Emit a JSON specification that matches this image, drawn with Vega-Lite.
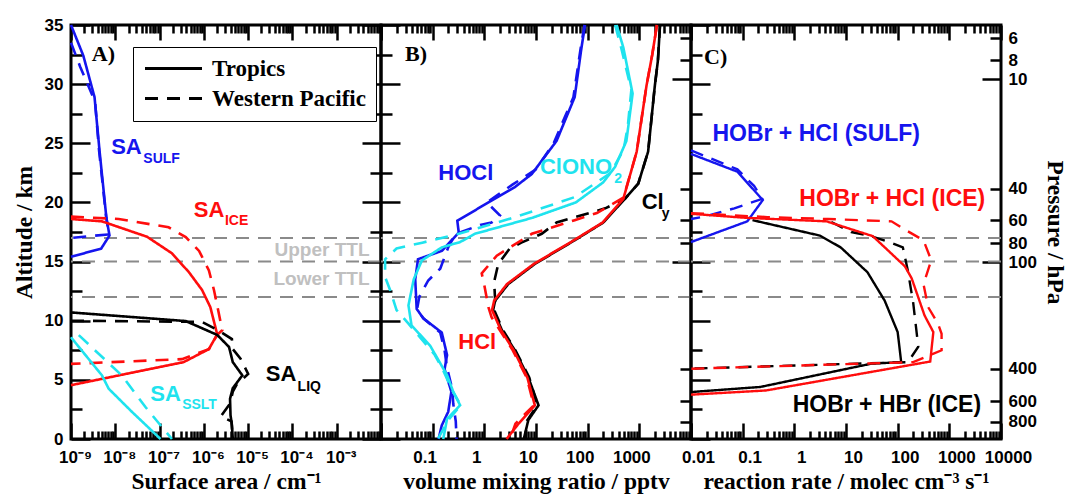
{
"$schema": "https://vega.github.io/schema/vega-lite/v6.json",
"padding": {"left": 10, "top": 14, "right": 0, "bottom": 0},
"datasets": {
"ttl": [{"a": 12}, {"a": 15}, {"a": 17}],
"A": [
{"s":"SULF","r":"Tropics","v":1e-9,"a":35},{"s":"SULF","r":"Tropics","v":1.9e-9,"a":32.4},{"s":"SULF","r":"Tropics","v":3.4e-9,"a":28.9},{"s":"SULF","r":"Tropics","v":4.4e-9,"a":24.4},{"s":"SULF","r":"Tropics","v":6.3e-9,"a":18.7},{"s":"SULF","r":"Tropics","v":7.4e-9,"a":17.2},{"s":"SULF","r":"Tropics","v":4.8e-9,"a":16.1},{"s":"SULF","r":"Tropics","v":1e-9,"a":15.4},
{"s":"SULF","r":"Western Pacific","v":1e-9,"a":33.5},{"s":"SULF","r":"Western Pacific","v":1.6e-9,"a":31.5},{"s":"SULF","r":"Western Pacific","v":3.5e-9,"a":28.5},{"s":"SULF","r":"Western Pacific","v":4.3e-9,"a":24.4},{"s":"SULF","r":"Western Pacific","v":6.2e-9,"a":18.8},{"s":"SULF","r":"Western Pacific","v":7.2e-9,"a":17.3},{"s":"SULF","r":"Western Pacific","v":1e-9,"a":17.0},
{"s":"ICE","r":"Tropics","v":1e-9,"a":18.6},{"s":"ICE","r":"Tropics","v":5e-9,"a":18.4},{"s":"ICE","r":"Tropics","v":5.2e-8,"a":17.1},{"s":"ICE","r":"Tropics","v":1.9e-7,"a":15.7},{"s":"ICE","r":"Tropics","v":4.6e-7,"a":14.1},{"s":"ICE","r":"Tropics","v":9.1e-7,"a":12.6},{"s":"ICE","r":"Tropics","v":1.4e-6,"a":11.15},{"s":"ICE","r":"Tropics","v":2.0e-6,"a":8.85},{"s":"ICE","r":"Tropics","v":1.3e-6,"a":7.6},{"s":"ICE","r":"Tropics","v":3.5e-7,"a":6.5},{"s":"ICE","r":"Tropics","v":1e-9,"a":4.55},
{"s":"ICE","r":"Western Pacific","v":1e-9,"a":18.8},{"s":"ICE","r":"Western Pacific","v":1.2e-8,"a":18.6},{"s":"ICE","r":"Western Pacific","v":1.6e-7,"a":17.9},{"s":"ICE","r":"Western Pacific","v":3.9e-7,"a":17.07},{"s":"ICE","r":"Western Pacific","v":7.8e-7,"a":15.9},{"s":"ICE","r":"Western Pacific","v":1.3e-6,"a":14.25},{"s":"ICE","r":"Western Pacific","v":1.7e-6,"a":12.56},{"s":"ICE","r":"Western Pacific","v":2.1e-6,"a":10.9},{"s":"ICE","r":"Western Pacific","v":2.6e-6,"a":9.2},{"s":"ICE","r":"Western Pacific","v":2.0e-6,"a":8.8},{"s":"ICE","r":"Western Pacific","v":1.3e-6,"a":7.6},{"s":"ICE","r":"Western Pacific","v":3.2e-7,"a":6.75},{"s":"ICE","r":"Western Pacific","v":1e-9,"a":6.35},
{"s":"LIQ","r":"Tropics","v":1e-9,"a":10.7},{"s":"LIQ","r":"Tropics","v":3.9e-7,"a":9.97},{"s":"LIQ","r":"Tropics","v":2.0e-6,"a":8.8},{"s":"LIQ","r":"Tropics","v":3.7e-6,"a":7.78},{"s":"LIQ","r":"Tropics","v":4.5e-6,"a":6.5},{"s":"LIQ","r":"Tropics","v":7.4e-6,"a":5.38},{"s":"LIQ","r":"Tropics","v":4.5e-6,"a":4.3},{"s":"LIQ","r":"Tropics","v":3.9e-6,"a":3.4},{"s":"LIQ","r":"Tropics","v":4.0e-6,"a":2.0},{"s":"LIQ","r":"Tropics","v":4.3e-6,"a":1.2},{"s":"LIQ","r":"Tropics","v":4.5e-6,"a":0},
{"s":"LIQ","r":"Western Pacific","v":1e-9,"a":10.0},{"s":"LIQ","r":"Western Pacific","v":9.1e-7,"a":9.9},{"s":"LIQ","r":"Western Pacific","v":2.1e-6,"a":9.2},{"s":"LIQ","r":"Western Pacific","v":4.3e-6,"a":8.45},{"s":"LIQ","r":"Western Pacific","v":4.5e-6,"a":7.6},{"s":"LIQ","r":"Western Pacific","v":6.8e-6,"a":6.76},{"s":"LIQ","r":"Western Pacific","v":1.0e-5,"a":5.5},{"s":"LIQ","r":"Western Pacific","v":5.5e-6,"a":4.6},{"s":"LIQ","r":"Western Pacific","v":4.5e-6,"a":4.0},{"s":"LIQ","r":"Western Pacific","v":3.9e-6,"a":3.0},{"s":"LIQ","r":"Western Pacific","v":2.4e-6,"a":1.9},{"s":"LIQ","r":"Western Pacific","v":4.2e-6,"a":1.5},{"s":"LIQ","r":"Western Pacific","v":4.5e-6,"a":0},
{"s":"SSLT","r":"Tropics","v":1e-9,"a":8.6},{"s":"SSLT","r":"Tropics","v":5.0e-9,"a":5.38},{"s":"SSLT","r":"Tropics","v":7.1e-9,"a":4.25},{"s":"SSLT","r":"Tropics","v":2.4e-8,"a":2.28},{"s":"SSLT","r":"Tropics","v":1.05e-7,"a":0},
{"s":"SSLT","r":"Western Pacific","v":1.5e-9,"a":8.78},{"s":"SSLT","r":"Western Pacific","v":1.4e-8,"a":5.38},{"s":"SSLT","r":"Western Pacific","v":4.8e-8,"a":2.7},{"s":"SSLT","r":"Western Pacific","v":1.9e-7,"a":0}
],
"B": [
{"s":"HOCl","r":"Tropics","v":89,"a":35},{"s":"HOCl","r":"Tropics","v":76,"a":33.1},{"s":"HOCl","r":"Tropics","v":56,"a":28.9},{"s":"HOCl","r":"Tropics","v":25,"a":25.2},{"s":"HOCl","r":"Tropics","v":8.3,"a":22.4},{"s":"HOCl","r":"Tropics","v":3.9,"a":21.3},{"s":"HOCl","r":"Tropics","v":1.2,"a":20.0},{"s":"HOCl","r":"Tropics","v":0.30,"a":18.45},{"s":"HOCl","r":"Tropics","v":0.32,"a":17.45},{"s":"HOCl","r":"Tropics","v":0.15,"a":15.9},{"s":"HOCl","r":"Tropics","v":0.052,"a":15.2},{"s":"HOCl","r":"Tropics","v":0.046,"a":13.5},{"s":"HOCl","r":"Tropics","v":0.049,"a":11.0},{"s":"HOCl","r":"Tropics","v":0.066,"a":10.2},{"s":"HOCl","r":"Tropics","v":0.15,"a":9.0},{"s":"HOCl","r":"Tropics","v":0.19,"a":7.1},{"s":"HOCl","r":"Tropics","v":0.17,"a":5.9},{"s":"HOCl","r":"Tropics","v":0.23,"a":4.0},{"s":"HOCl","r":"Tropics","v":0.20,"a":2.3},{"s":"HOCl","r":"Tropics","v":0.15,"a":1.15},{"s":"HOCl","r":"Tropics","v":0.13,"a":0},
{"s":"HOCl","r":"Western Pacific","v":87,"a":35},{"s":"HOCl","r":"Western Pacific","v":73,"a":33},{"s":"HOCl","r":"Western Pacific","v":53,"a":28.9},{"s":"HOCl","r":"Western Pacific","v":36,"a":27.2},{"s":"HOCl","r":"Western Pacific","v":22,"a":25.0},{"s":"HOCl","r":"Western Pacific","v":10,"a":22.8},{"s":"HOCl","r":"Western Pacific","v":3.5,"a":21.5},{"s":"HOCl","r":"Western Pacific","v":1.12,"a":20.0},{"s":"HOCl","r":"Western Pacific","v":2.0,"a":18.9},{"s":"HOCl","r":"Western Pacific","v":1.38,"a":18.3},{"s":"HOCl","r":"Western Pacific","v":0.83,"a":18.1},{"s":"HOCl","r":"Western Pacific","v":0.36,"a":17.5},{"s":"HOCl","r":"Western Pacific","v":0.25,"a":17.0},{"s":"HOCl","r":"Western Pacific","v":0.2,"a":16.2},{"s":"HOCl","r":"Western Pacific","v":0.14,"a":14.4},{"s":"HOCl","r":"Western Pacific","v":0.082,"a":13.4},{"s":"HOCl","r":"Western Pacific","v":0.055,"a":12.0},{"s":"HOCl","r":"Western Pacific","v":0.05,"a":11.0},{"s":"HOCl","r":"Western Pacific","v":0.066,"a":10.2},{"s":"HOCl","r":"Western Pacific","v":0.14,"a":9.0},{"s":"HOCl","r":"Western Pacific","v":0.17,"a":7.5},{"s":"HOCl","r":"Western Pacific","v":0.19,"a":6.0},{"s":"HOCl","r":"Western Pacific","v":0.24,"a":4.2},{"s":"HOCl","r":"Western Pacific","v":0.25,"a":3.0},{"s":"HOCl","r":"Western Pacific","v":0.28,"a":1.5},{"s":"HOCl","r":"Western Pacific","v":0.29,"a":0},
{"s":"ClONO2","r":"Tropics","v":363,"a":35},{"s":"ClONO2","r":"Tropics","v":490,"a":33.1},{"s":"ClONO2","r":"Tropics","v":741,"a":29.2},{"s":"ClONO2","r":"Tropics","v":562,"a":25.2},{"s":"ClONO2","r":"Tropics","v":339,"a":23.0},{"s":"ClONO2","r":"Tropics","v":200,"a":21.7},{"s":"ClONO2","r":"Tropics","v":59,"a":20.0},{"s":"ClONO2","r":"Tropics","v":8.5,"a":18.7},{"s":"ClONO2","r":"Tropics","v":0.66,"a":17.35},{"s":"ClONO2","r":"Tropics","v":0.34,"a":16.65},{"s":"ClONO2","r":"Tropics","v":0.15,"a":16.2},{"s":"ClONO2","r":"Tropics","v":0.062,"a":15.1},{"s":"ClONO2","r":"Tropics","v":0.043,"a":13.5},{"s":"ClONO2","r":"Tropics","v":0.034,"a":11.3},{"s":"ClONO2","r":"Tropics","v":0.039,"a":9.6},{"s":"ClONO2","r":"Tropics","v":0.089,"a":7.9},{"s":"ClONO2","r":"Tropics","v":0.19,"a":5.4},{"s":"ClONO2","r":"Tropics","v":0.25,"a":4.0},{"s":"ClONO2","r":"Tropics","v":0.34,"a":2.85},{"s":"ClONO2","r":"Tropics","v":0.19,"a":1.7},{"s":"ClONO2","r":"Tropics","v":0.16,"a":0},
{"s":"ClONO2","r":"Western Pacific","v":340,"a":35},{"s":"ClONO2","r":"Western Pacific","v":450,"a":33},{"s":"ClONO2","r":"Western Pacific","v":700,"a":29.5},{"s":"ClONO2","r":"Western Pacific","v":600,"a":26.5},{"s":"ClONO2","r":"Western Pacific","v":500,"a":24.5},{"s":"ClONO2","r":"Western Pacific","v":280,"a":22.5},{"s":"ClONO2","r":"Western Pacific","v":56,"a":20.45},{"s":"ClONO2","r":"Western Pacific","v":4.0,"a":18.76},{"s":"ClONO2","r":"Western Pacific","v":0.32,"a":17.35},{"s":"ClONO2","r":"Western Pacific","v":0.063,"a":16.6},{"s":"ClONO2","r":"Western Pacific","v":0.02,"a":16.1},{"s":"ClONO2","r":"Western Pacific","v":0.012,"a":15.2},{"s":"ClONO2","r":"Western Pacific","v":0.012,"a":13.7},{"s":"ClONO2","r":"Western Pacific","v":0.015,"a":12.6},{"s":"ClONO2","r":"Western Pacific","v":0.02,"a":10.9},{"s":"ClONO2","r":"Western Pacific","v":0.034,"a":9.75},{"s":"ClONO2","r":"Western Pacific","v":0.071,"a":8.1},{"s":"ClONO2","r":"Western Pacific","v":0.11,"a":7.1},{"s":"ClONO2","r":"Western Pacific","v":0.16,"a":5.8},{"s":"ClONO2","r":"Western Pacific","v":0.24,"a":4.1},{"s":"ClONO2","r":"Western Pacific","v":0.35,"a":2.85},{"s":"ClONO2","r":"Western Pacific","v":0.2,"a":1.6},{"s":"ClONO2","r":"Western Pacific","v":0.126,"a":0},
{"s":"Cly","r":"Tropics","v":2512,"a":35},{"s":"Cly","r":"Tropics","v":2290,"a":32},{"s":"Cly","r":"Tropics","v":2000,"a":29.9},{"s":"Cly","r":"Tropics","v":1480,"a":24.3},{"s":"Cly","r":"Tropics","v":955,"a":21.6},{"s":"Cly","r":"Tropics","v":525,"a":20.3},{"s":"Cly","r":"Tropics","v":200,"a":18.3},{"s":"Cly","r":"Tropics","v":56,"a":16.8},{"s":"Cly","r":"Tropics","v":9.5,"a":14.8},{"s":"Cly","r":"Tropics","v":2.9,"a":13.1},{"s":"Cly","r":"Tropics","v":1.62,"a":11.7},{"s":"Cly","r":"Tropics","v":1.48,"a":10.9},{"s":"Cly","r":"Tropics","v":2.19,"a":9.2},{"s":"Cly","r":"Tropics","v":3.9,"a":7.5},{"s":"Cly","r":"Tropics","v":7.1,"a":5.2},{"s":"Cly","r":"Tropics","v":11.2,"a":2.85},{"s":"Cly","r":"Tropics","v":7.1,"a":1.6},{"s":"Cly","r":"Tropics","v":5.8,"a":0},
{"s":"Cly","r":"Western Pacific","v":2512,"a":35},{"s":"Cly","r":"Western Pacific","v":2290,"a":32},{"s":"Cly","r":"Western Pacific","v":2000,"a":29.9},{"s":"Cly","r":"Western Pacific","v":1480,"a":24.3},{"s":"Cly","r":"Western Pacific","v":955,"a":21.6},{"s":"Cly","r":"Western Pacific","v":525,"a":20.3},{"s":"Cly","r":"Western Pacific","v":219,"a":19.5},{"s":"Cly","r":"Western Pacific","v":25,"a":18.3},{"s":"Cly","r":"Western Pacific","v":12.9,"a":17.35},{"s":"Cly","r":"Western Pacific","v":5.2,"a":16.6},{"s":"Cly","r":"Western Pacific","v":3.1,"a":16.1},{"s":"Cly","r":"Western Pacific","v":1.86,"a":14.8},{"s":"Cly","r":"Western Pacific","v":1.55,"a":13.3},{"s":"Cly","r":"Western Pacific","v":1.62,"a":11.7},{"s":"Cly","r":"Western Pacific","v":1.55,"a":10.9},{"s":"Cly","r":"Western Pacific","v":2.3,"a":9.2},{"s":"Cly","r":"Western Pacific","v":4.0,"a":7.5},{"s":"Cly","r":"Western Pacific","v":7.4,"a":5.2},{"s":"Cly","r":"Western Pacific","v":10.5,"a":2.85},{"s":"Cly","r":"Western Pacific","v":6.6,"a":1.5},{"s":"Cly","r":"Western Pacific","v":6.3,"a":0},
{"s":"HCl","r":"Tropics","v":2190,"a":35},{"s":"HCl","r":"Tropics","v":1780,"a":32.5},{"s":"HCl","r":"Tropics","v":1380,"a":29.9},{"s":"HCl","r":"Tropics","v":890,"a":24.3},{"s":"HCl","r":"Tropics","v":660,"a":22.3},{"s":"HCl","r":"Tropics","v":490,"a":20.3},{"s":"HCl","r":"Tropics","v":195,"a":18.3},{"s":"HCl","r":"Tropics","v":54,"a":16.8},{"s":"HCl","r":"Tropics","v":9.1,"a":14.8},{"s":"HCl","r":"Tropics","v":2.75,"a":13.1},{"s":"HCl","r":"Tropics","v":1.55,"a":11.7},{"s":"HCl","r":"Tropics","v":1.41,"a":10.9},{"s":"HCl","r":"Tropics","v":2.1,"a":9.2},{"s":"HCl","r":"Tropics","v":3.7,"a":7.5},{"s":"HCl","r":"Tropics","v":6.8,"a":5.2},{"s":"HCl","r":"Tropics","v":9.5,"a":2.85},{"s":"HCl","r":"Tropics","v":4.6,"a":1.3},{"s":"HCl","r":"Tropics","v":2.7,"a":0},
{"s":"HCl","r":"Western Pacific","v":2190,"a":35},{"s":"HCl","r":"Western Pacific","v":1780,"a":32.5},{"s":"HCl","r":"Western Pacific","v":1380,"a":29.9},{"s":"HCl","r":"Western Pacific","v":890,"a":24.3},{"s":"HCl","r":"Western Pacific","v":660,"a":22.3},{"s":"HCl","r":"Western Pacific","v":490,"a":20.4},{"s":"HCl","r":"Western Pacific","v":151,"a":19.1},{"s":"HCl","r":"Western Pacific","v":56,"a":18.5},{"s":"HCl","r":"Western Pacific","v":8.3,"a":17.35},{"s":"HCl","r":"Western Pacific","v":2.9,"a":16.1},{"s":"HCl","r":"Western Pacific","v":1.74,"a":15.5},{"s":"HCl","r":"Western Pacific","v":0.89,"a":14.0},{"s":"HCl","r":"Western Pacific","v":1.0,"a":13.0},{"s":"HCl","r":"Western Pacific","v":1.2,"a":11.15},{"s":"HCl","r":"Western Pacific","v":1.38,"a":10.3},{"s":"HCl","r":"Western Pacific","v":2.0,"a":9.2},{"s":"HCl","r":"Western Pacific","v":3.55,"a":7.5},{"s":"HCl","r":"Western Pacific","v":6.6,"a":5.2},{"s":"HCl","r":"Western Pacific","v":9.1,"a":2.85},{"s":"HCl","r":"Western Pacific","v":4.0,"a":1.3},{"s":"HCl","r":"Western Pacific","v":3.16,"a":0}
],
"C": [
{"s":"CSULF","r":"Tropics","v":0.01,"a":24.1},{"s":"CSULF","r":"Tropics","v":0.079,"a":22.6},{"s":"CSULF","r":"Tropics","v":0.245,"a":20.2},{"s":"CSULF","r":"Tropics","v":0.123,"a":18.4},{"s":"CSULF","r":"Tropics","v":0.01,"a":16.65},
{"s":"CSULF","r":"Western Pacific","v":0.01,"a":24.4},{"s":"CSULF","r":"Western Pacific","v":0.079,"a":22.8},{"s":"CSULF","r":"Western Pacific","v":0.166,"a":21.4},{"s":"CSULF","r":"Western Pacific","v":0.24,"a":20.3},{"s":"CSULF","r":"Western Pacific","v":0.069,"a":19.5},{"s":"CSULF","r":"Western Pacific","v":0.018,"a":18.8},{"s":"CSULF","r":"Western Pacific","v":0.01,"a":18.6},
{"s":"CHBr","r":"Tropics","v":0.155,"a":18.5},{"s":"CHBr","r":"Tropics","v":3.1,"a":17.2},{"s":"CHBr","r":"Tropics","v":7.9,"a":16.2},{"s":"CHBr","r":"Tropics","v":26,"a":14.1},{"s":"CHBr","r":"Tropics","v":56,"a":11.7},{"s":"CHBr","r":"Tropics","v":100,"a":9.04},{"s":"CHBr","r":"Tropics","v":117,"a":6.5},{"s":"CHBr","r":"Tropics","v":31,"a":6.37},{"s":"CHBr","r":"Tropics","v":0.22,"a":4.4},{"s":"CHBr","r":"Tropics","v":0.01,"a":3.97},
{"s":"CHBr","r":"Western Pacific","v":5.2,"a":18.35},{"s":"CHBr","r":"Western Pacific","v":12.6,"a":17.5},{"s":"CHBr","r":"Western Pacific","v":28,"a":17.2},{"s":"CHBr","r":"Western Pacific","v":63,"a":16.7},{"s":"CHBr","r":"Western Pacific","v":126,"a":16.2},{"s":"CHBr","r":"Western Pacific","v":158,"a":14.2},{"s":"CHBr","r":"Western Pacific","v":200,"a":11.5},{"s":"CHBr","r":"Western Pacific","v":240,"a":8.5},{"s":"CHBr","r":"Western Pacific","v":251,"a":7.8},{"s":"CHBr","r":"Western Pacific","v":158,"a":6.5},{"s":"CHBr","r":"Western Pacific","v":0.01,"a":5.95},
{"s":"CICE","r":"Tropics","v":0.01,"a":19.04},{"s":"CICE","r":"Tropics","v":0.115,"a":18.7},{"s":"CICE","r":"Tropics","v":4.2,"a":18.4},{"s":"CICE","r":"Tropics","v":33,"a":17.15},{"s":"CICE","r":"Tropics","v":138,"a":14.6},{"s":"CICE","r":"Tropics","v":186,"a":13.6},{"s":"CICE","r":"Tropics","v":331,"a":10.45},{"s":"CICE","r":"Tropics","v":490,"a":9.04},{"s":"CICE","r":"Tropics","v":427,"a":6.55},{"s":"CICE","r":"Tropics","v":0.28,"a":4.1},{"s":"CICE","r":"Tropics","v":0.01,"a":3.75},
{"s":"CICE","r":"Western Pacific","v":0.01,"a":19.1},{"s":"CICE","r":"Western Pacific","v":0.30,"a":18.76},{"s":"CICE","r":"Western Pacific","v":4.5,"a":18.6},{"s":"CICE","r":"Western Pacific","v":76,"a":18.4},{"s":"CICE","r":"Western Pacific","v":126,"a":17.8},{"s":"CICE","r":"Western Pacific","v":316,"a":16.8},{"s":"CICE","r":"Western Pacific","v":447,"a":15.1},{"s":"CICE","r":"Western Pacific","v":316,"a":13.1},{"s":"CICE","r":"Western Pacific","v":389,"a":11.15},{"s":"CICE","r":"Western Pacific","v":603,"a":9.75},{"s":"CICE","r":"Western Pacific","v":708,"a":8.9},{"s":"CICE","r":"Western Pacific","v":708,"a":7.5},{"s":"CICE","r":"Western Pacific","v":200,"a":6.5},{"s":"CICE","r":"Western Pacific","v":0.01,"a":5.94}
],
"labA": [
{"k":"m","t":"SA","s":"SULF","v":8.07e-9,"a":24.68},{"k":"m","t":"SA","s":"ICE","v":5.93e-7,"a":19.33},{"k":"m","t":"SA","s":"LIQ","v":2.51e-5,"a":5.47},{"k":"m","t":"SA","s":"SSLT","v":6.18e-8,"a":3.83},
{"k":"s","t":"SULF","s":"SULF","v":4.3e-8,"a":23.69},{"k":"s","t":"ICE","s":"ICE","v":2.99e-6,"a":18.43},{"k":"s","t":"LIQ","s":"LIQ","v":1.31e-4,"a":4.40},{"k":"s","t":"SSLT","s":"SSLT","v":3.24e-7,"a":2.85},
{"k":"t","t":"Upper TTL","s":"TTL","v":5.5e-3,"a":15.95},{"k":"t","t":"Lower TTL","s":"TTL","v":5.5e-3,"a":13.55},
{"k":"p","t":"A)","s":"P","v":2.94e-9,"a":32.57}
],
"labB": [
{"k":"m","t":"HOCl","s":"HOCl","v":0.1286,"a":22.51},{"k":"m","t":"ClONO","s":"ClONO2","v":11.9,"a":22.99},{"k":"m","t":"Cl","s":"Cly","v":1109,"a":20.03},{"k":"m","t":"HCl","s":"HCl","v":0.313,"a":8.2},
{"k":"s","t":"2","s":"ClONO2","v":327,"a":22.0},{"k":"s","t":"y","s":"Cly","v":2704,"a":19.05},
{"k":"p","t":"B)","s":"P","v":0.0291,"a":32.57}
],
"labC": [
{"k":"m","t":"HOBr + HCl (SULF)","s":"CSULF","v":0.02594,"a":25.75},{"k":"m","t":"HOBr + HCl (ICE)","s":"CICE","v":1.25,"a":20.26},{"k":"m","t":"HOBr + HBr (ICE)","s":"CHBr","v":0.927,"a":2.85},
{"k":"p","t":"C)","s":"P","v":0.01787,"a":32.29}
]
},
"hconcat": [
{
"width": 310, "height": 414,
"resolve": {"axis": {"x": "independent", "y": "independent"}},
"layer": [
{"data": {"name": "ttl"}, "mark": {"type": "rule", "strokeDash": [13, 9], "color": "#8a8a8a", "strokeWidth": 2},
 "encoding": {"y": {"field": "a", "type": "quantitative", "scale": {"domain": [0, 35], "nice": false},
  "axis": {"orient": "left", "values": [0,2.5,5,7.5,10,12.5,15,17.5,20,22.5,25,27.5,30,32.5,35], "labelExpr": "datum.value % 5 == 0 ? format(datum.value, 'd') : ''", "tickSize": {"condition": {"test": "datum.value % 5 == 0", "value": -19}, "value": -11}, "labelPadding": 27, "title": "Altitude / km", "titlePadding": 8}}}},
{"data": {"name": "A"}, "mark": {"type": "line", "strokeWidth": 2.6},
 "encoding": {
  "x": {"field": "v", "type": "quantitative", "scale": {"type": "log", "domain": [1e-9, 1e-2], "nice": false},
   "axis": {"orient": "bottom", "values": [1e-9,2e-9,3e-9,4e-9,5e-9,6e-9,7e-9,8e-9,9e-9,1e-8,2e-8,3e-8,4e-8,5e-8,6e-8,7e-8,8e-8,9e-8,1e-7,2e-7,3e-7,4e-7,5e-7,6e-7,7e-7,8e-7,9e-7,1e-6,2e-6,3e-6,4e-6,5e-6,6e-6,7e-6,8e-6,9e-6,1e-5,2e-5,3e-5,4e-5,5e-5,6e-5,7e-5,8e-5,9e-5,1e-4,2e-4,3e-4,4e-4,5e-4,6e-4,7e-4,8e-4,9e-4,1e-3,2e-3,3e-3,4e-3,5e-3,6e-3,7e-3,8e-3,9e-3,1e-2],
    "labelExpr": "abs(log(datum.value)/LN10 - round(log(datum.value)/LN10)) < 0.001 && round(log(datum.value)/LN10) <= -3 ? '10⁻' + ['⁰','¹','²','³','⁴','⁵','⁶','⁷','⁸','⁹'][-round(log(datum.value)/LN10)] : ''",
    "tickSize": {"condition": {"test": "abs(log(datum.value)/LN10 - round(log(datum.value)/LN10)) < 0.001", "value": -16}, "value": -8},
    "labelPadding": 26, "labelOffset": 4, "title": "Surface area / cm⁻¹", "titlePadding": -4}},
  "y": {"field": "a", "type": "quantitative", "scale": {"domain": [0, 35], "nice": false}, "axis": null},
  "color": {"field": "s", "type": "nominal", "scale": {"domain": ["SULF","ICE","LIQ","SSLT","HOCl","ClONO2","Cly","HCl","CSULF","CICE","CHBr","TTL","P"], "range": ["#1515ee","#ff0d0d","#000000","#1fe3ee","#1515ee","#1fe3ee","#000000","#ff0d0d","#1515ee","#ff0d0d","#000000","#c0c0c0","#000000"]}, "legend": null},
  "strokeDash": {"field": "r", "type": "nominal", "scale": {"domain": ["Tropics", "Western Pacific"], "range": [[1, 0], [13, 9]]},
   "legend": {"orient": "none", "legendX": 62, "legendY": 22, "title": null, "fillColor": "white", "strokeColor": "black", "padding": 10, "labelFont": "Liberation Serif", "labelFontWeight": "bold", "labelFontSize": 23, "labelColor": "black", "symbolStrokeColor": "black", "symbolStrokeWidth": 3, "symbolSize": 361, "symbolType": "M-3,0H3", "symbolOffset": 19, "rowPadding": 6, "labelOffset": 27}},
  "order": {"value": null}}},
{"data": {"name": "labA"}, "transform": [{"filter": "datum.k == 'm'"}],
 "mark": {"type": "text", "font": "Liberation Sans", "fontWeight": "bold", "fontSize": 22, "align": "left", "baseline": "middle"},
 "encoding": {
  "x": {"field": "v", "type": "quantitative", "scale": {"type": "log", "domain": [1e-9, 1e-2], "nice": false},
   "axis": {"orient": "top", "values": [1e-9,2e-9,3e-9,4e-9,5e-9,6e-9,7e-9,8e-9,9e-9,1e-8,2e-8,3e-8,4e-8,5e-8,6e-8,7e-8,8e-8,9e-8,1e-7,2e-7,3e-7,4e-7,5e-7,6e-7,7e-7,8e-7,9e-7,1e-6,2e-6,3e-6,4e-6,5e-6,6e-6,7e-6,8e-6,9e-6,1e-5,2e-5,3e-5,4e-5,5e-5,6e-5,7e-5,8e-5,9e-5,1e-4,2e-4,3e-4,4e-4,5e-4,6e-4,7e-4,8e-4,9e-4,1e-3,2e-3,3e-3,4e-3,5e-3,6e-3,7e-3,8e-3,9e-3,1e-2], "labels": false, "title": null,
    "tickSize": {"condition": {"test": "abs(log(datum.value)/LN10 - round(log(datum.value)/LN10)) < 0.001", "value": -15}, "value": -8}}},
  "y": {"field": "a", "type": "quantitative", "scale": {"domain": [0, 35], "nice": false},
   "axis": {"orient": "right", "values": [0,2.5,5,7.5,10,12.5,15,17.5,20,22.5,25,27.5,30,32.5,35], "labels": false, "title": null, "tickSize": {"condition": {"test": "datum.value % 5 == 0", "value": -19}, "value": -11}}},
  "text": {"field": "t"},
  "color": {"field": "s", "type": "nominal", "scale": {"domain": ["SULF","ICE","LIQ","SSLT","HOCl","ClONO2","Cly","HCl","CSULF","CICE","CHBr","TTL","P"], "range": ["#1515ee","#ff0d0d","#000000","#1fe3ee","#1515ee","#1fe3ee","#000000","#ff0d0d","#1515ee","#ff0d0d","#000000","#c0c0c0","#000000"]}, "legend": null}}},
{"data": {"name": "labA"}, "transform": [{"filter": "datum.k == 's'"}],
 "mark": {"type": "text", "font": "Liberation Sans", "fontWeight": "bold", "fontSize": 14, "align": "left", "baseline": "middle"},
 "encoding": {"x": {"field": "v", "type": "quantitative", "axis": null}, "y": {"field": "a", "type": "quantitative", "axis": null}, "text": {"field": "t"},
  "color": {"field": "s", "type": "nominal", "legend": null}}},
{"data": {"name": "labA"}, "transform": [{"filter": "datum.k == 't'"}],
 "mark": {"type": "text", "font": "Liberation Sans", "fontWeight": "bold", "fontSize": 19, "align": "right", "baseline": "middle"},
 "encoding": {"x": {"field": "v", "type": "quantitative", "axis": null}, "y": {"field": "a", "type": "quantitative", "axis": null}, "text": {"field": "t"},
  "color": {"field": "s", "type": "nominal", "legend": null}}},
{"data": {"name": "labA"}, "transform": [{"filter": "datum.k == 'p'"}],
 "mark": {"type": "text", "font": "Liberation Serif", "fontWeight": "bold", "fontSize": 22, "align": "left", "baseline": "middle"},
 "encoding": {"x": {"field": "v", "type": "quantitative", "axis": null}, "y": {"field": "a", "type": "quantitative", "axis": null}, "text": {"field": "t"},
  "color": {"field": "s", "type": "nominal", "legend": null}}}
]
},
{
"width": 310, "height": 414,
"resolve": {"axis": {"x": "independent", "y": "independent"}},
"layer": [
{"data": {"name": "ttl"}, "mark": {"type": "rule", "strokeDash": [13, 9], "color": "#8a8a8a", "strokeWidth": 2},
 "encoding": {"y": {"field": "a", "type": "quantitative", "scale": {"domain": [0, 35], "nice": false},
  "axis": {"orient": "left", "values": [0,2.5,5,7.5,10,12.5,15,17.5,20,22.5,25,27.5,30,32.5,35], "labels": false, "title": null, "tickSize": {"condition": {"test": "datum.value % 5 == 0", "value": -19}, "value": -11}}}}},
{"data": {"name": "B"}, "mark": {"type": "line", "strokeWidth": 2.6},
 "encoding": {
  "x": {"field": "v", "type": "quantitative", "scale": {"type": "log", "domain": [0.01, 10000], "nice": false},
   "axis": {"orient": "bottom", "values": [0.01,0.02,0.03,0.04,0.05,0.06,0.07,0.08,0.09,0.1,0.2,0.3,0.4,0.5,0.6,0.7,0.8,0.9,1,2,3,4,5,6,7,8,9,10,20,30,40,50,60,70,80,90,100,200,300,400,500,600,700,800,900,1000,2000,3000,4000,5000,6000,7000,8000,9000,10000],
    "labelExpr": "abs(log(datum.value)/LN10 - round(log(datum.value)/LN10)) < 0.001 && datum.value > 0.05 && datum.value < 5000 ? format(datum.value, '~g') : ''",
    "tickSize": {"condition": {"test": "abs(log(datum.value)/LN10 - round(log(datum.value)/LN10)) < 0.001", "value": -16}, "value": -8},
    "labelPadding": 26, "labelOffset": -8, "title": "volume mixing ratio / pptv", "titlePadding": -4}},
  "y": {"field": "a", "type": "quantitative", "scale": {"domain": [0, 35], "nice": false}, "axis": null},
  "color": {"field": "s", "type": "nominal", "legend": null},
  "strokeDash": {"field": "r", "type": "nominal", "scale": {"domain": ["Tropics", "Western Pacific"], "range": [[1, 0], [13, 9]]}, "legend": null},
  "order": {"value": null}}},
{"data": {"name": "labB"}, "transform": [{"filter": "datum.k == 'm'"}],
 "mark": {"type": "text", "font": "Liberation Sans", "fontWeight": "bold", "fontSize": 22, "align": "left", "baseline": "middle"},
 "encoding": {
  "x": {"field": "v", "type": "quantitative", "scale": {"type": "log", "domain": [0.01, 10000], "nice": false},
   "axis": {"orient": "top", "values": [0.01,0.02,0.03,0.04,0.05,0.06,0.07,0.08,0.09,0.1,0.2,0.3,0.4,0.5,0.6,0.7,0.8,0.9,1,2,3,4,5,6,7,8,9,10,20,30,40,50,60,70,80,90,100,200,300,400,500,600,700,800,900,1000,2000,3000,4000,5000,6000,7000,8000,9000,10000], "labels": false, "title": null,
    "tickSize": {"condition": {"test": "abs(log(datum.value)/LN10 - round(log(datum.value)/LN10)) < 0.001", "value": -15}, "value": -8}}},
  "y": {"field": "a", "type": "quantitative", "scale": {"domain": [0, 35], "nice": false},
   "axis": {"orient": "right", "values": [33.9, 32, 30.4, 21.15, 18.5, 16.56, 14.96, 5.94, 3.21, 1.44], "labels": false, "title": null, "tickSize": {"condition": {"test": "datum.value == 30.4 || datum.value == 14.96", "value": -19}, "value": -11}}},
  "text": {"field": "t"},
  "color": {"field": "s", "type": "nominal", "legend": null}}},
{"data": {"name": "labB"}, "transform": [{"filter": "datum.k == 's'"}],
 "mark": {"type": "text", "font": "Liberation Sans", "fontWeight": "bold", "fontSize": 14, "align": "left", "baseline": "middle"},
 "encoding": {"x": {"field": "v", "type": "quantitative", "axis": null}, "y": {"field": "a", "type": "quantitative", "axis": null}, "text": {"field": "t"},
  "color": {"field": "s", "type": "nominal", "legend": null}}},
{"data": {"name": "labB"}, "transform": [{"filter": "datum.k == 'p'"}],
 "mark": {"type": "text", "font": "Liberation Serif", "fontWeight": "bold", "fontSize": 22, "align": "left", "baseline": "middle"},
 "encoding": {"x": {"field": "v", "type": "quantitative", "axis": null}, "y": {"field": "a", "type": "quantitative", "axis": null}, "text": {"field": "t"},
  "color": {"field": "s", "type": "nominal", "legend": null}}}
]
},
{
"width": 310, "height": 414,
"resolve": {"axis": {"x": "independent", "y": "independent"}},
"layer": [
{"data": {"name": "ttl"}, "mark": {"type": "rule", "strokeDash": [13, 9], "color": "#8a8a8a", "strokeWidth": 2},
 "encoding": {"y": {"field": "a", "type": "quantitative", "scale": {"domain": [0, 35], "nice": false},
  "axis": {"orient": "left", "values": [0,2.5,5,7.5,10,12.5,15,17.5,20,22.5,25,27.5,30,32.5,35], "labels": false, "title": null, "tickSize": {"condition": {"test": "datum.value % 5 == 0", "value": -19}, "value": -11}}}}},
{"data": {"name": "C"}, "mark": {"type": "line", "strokeWidth": 2.4},
 "encoding": {
  "x": {"field": "v", "type": "quantitative", "scale": {"type": "log", "domain": [0.01, 10000], "nice": false},
   "axis": {"orient": "bottom", "values": [0.01,0.02,0.03,0.04,0.05,0.06,0.07,0.08,0.09,0.1,0.2,0.3,0.4,0.5,0.6,0.7,0.8,0.9,1,2,3,4,5,6,7,8,9,10,20,30,40,50,60,70,80,90,100,200,300,400,500,600,700,800,900,1000,2000,3000,4000,5000,6000,7000,8000,9000,10000],
    "labelExpr": "abs(log(datum.value)/LN10 - round(log(datum.value)/LN10)) < 0.001 ? format(datum.value, '~g') : ''",
    "tickSize": {"condition": {"test": "abs(log(datum.value)/LN10 - round(log(datum.value)/LN10)) < 0.001", "value": -16}, "value": -8},
    "labelPadding": 26, "labelOffset": 7, "title": "reaction rate / molec cm⁻³ s⁻¹", "titlePadding": -4}},
  "y": {"field": "a", "type": "quantitative", "scale": {"domain": [0, 35], "nice": false}, "axis": null},
  "color": {"field": "s", "type": "nominal", "legend": null},
  "strokeDash": {"field": "r", "type": "nominal", "scale": {"domain": ["Tropics", "Western Pacific"], "range": [[1, 0], [13, 9]]}, "legend": null},
  "order": {"value": null}}},
{"data": {"name": "labC"}, "transform": [{"filter": "datum.k == 'm'"}],
 "mark": {"type": "text", "font": "Liberation Sans", "fontWeight": "bold", "fontSize": 23, "align": "left", "baseline": "middle"},
 "encoding": {
  "x": {"field": "v", "type": "quantitative", "scale": {"type": "log", "domain": [0.01, 10000], "nice": false},
   "axis": {"orient": "top", "values": [0.01,0.02,0.03,0.04,0.05,0.06,0.07,0.08,0.09,0.1,0.2,0.3,0.4,0.5,0.6,0.7,0.8,0.9,1,2,3,4,5,6,7,8,9,10,20,30,40,50,60,70,80,90,100,200,300,400,500,600,700,800,900,1000,2000,3000,4000,5000,6000,7000,8000,9000,10000], "labels": false, "title": null,
    "tickSize": {"condition": {"test": "abs(log(datum.value)/LN10 - round(log(datum.value)/LN10)) < 0.001", "value": -15}, "value": -8}}},
  "y": {"field": "a", "type": "quantitative", "scale": {"domain": [0, 35], "nice": false},
   "axis": {"orient": "right", "values": [33.9, 32, 30.4, 21.15, 18.5, 16.56, 14.96, 5.94, 3.21, 1.44],
    "labelExpr": "datum.value == 33.9 ? '6' : datum.value == 32 ? '8' : datum.value == 30.4 ? '10' : datum.value == 21.15 ? '40' : datum.value == 18.5 ? '60' : datum.value == 16.56 ? '80' : datum.value == 14.96 ? '100' : datum.value == 5.94 ? '400' : datum.value == 3.21 ? '600' : '800'",
    "tickSize": {"condition": {"test": "datum.value == 30.4 || datum.value == 14.96", "value": -19}, "value": -11},
    "labelPadding": {"condition": {"test": "datum.value == 30.4 || datum.value == 14.96", "value": 26}, "value": 18},
    "title": "Pressure / hPa", "titlePadding": 6}},
  "text": {"field": "t"},
  "color": {"field": "s", "type": "nominal", "legend": null}}},
{"data": {"name": "labC"}, "transform": [{"filter": "datum.k == 'p'"}],
 "mark": {"type": "text", "font": "Liberation Serif", "fontWeight": "bold", "fontSize": 22, "align": "left", "baseline": "middle"},
 "encoding": {"x": {"field": "v", "type": "quantitative", "axis": null}, "y": {"field": "a", "type": "quantitative", "axis": null}, "text": {"field": "t"},
  "color": {"field": "s", "type": "nominal", "legend": null}}}
]
}
],
"spacing": 0,
"bounds": "flush",
"resolve": {"scale": {"strokeDash": "independent"}, "legend": {"strokeDash": "independent"}},
"config": {
 "view": {"stroke": "#000", "strokeWidth": 3},
 "axis": {"domain": false, "grid": false, "tickColor": "#000", "tickWidth": 2.5, "labelFont": "Liberation Sans", "labelFontWeight": "bold", "labelFontSize": 17, "labelColor": "#000", "titleFont": "Liberation Serif", "titleFontWeight": "bold", "titleFontSize": 23.5, "titleColor": "#000", "labelOverlap": false, "labelFlush": false, "labelBound": false}
}
}
